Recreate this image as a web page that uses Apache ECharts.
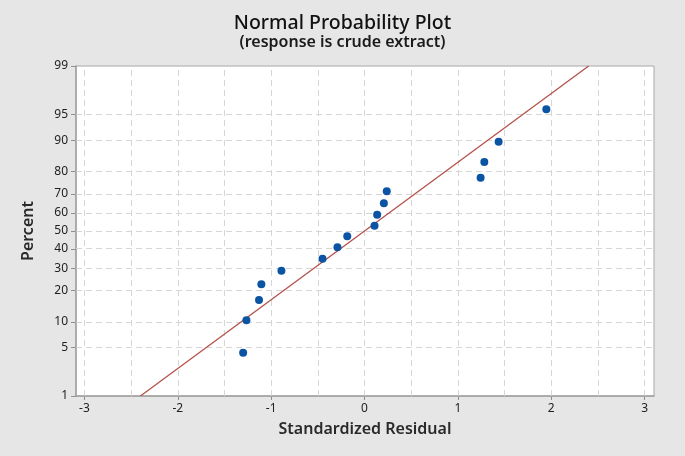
<!DOCTYPE html>
<html><head><meta charset="utf-8">
<script src="https://cdn.jsdelivr.net/npm/echarts@6/dist/echarts.min.js"></script>
<style>html,body{margin:0;padding:0;background:#e6e6e6;}#c{width:685px;height:456px;}</style>
</head><body><div id="c"></div>
<script>
// Data
const residuals = [-1.30, -1.265, -1.13, -1.105, -0.89, -0.45, -0.29, -0.185, 0.107, 0.135, 0.207, 0.238, 1.243, 1.283, 1.436, 1.947];
const percents  = [4.3, 10.4, 16.5, 22.6, 28.7, 34.8, 40.9, 47.0, 53.0, 59.1, 65.2, 71.3, 77.4, 83.5, 89.6, 95.7];
const fitX = [-2.40, 2.40];
const fitPct = [1, 99];
const yTicks = [1, 5, 10, 20, 30, 40, 50, 60, 70, 80, 90, 95, 99];
const xTicks = [-3, -2, -1, 0, 1, 2, 3];
const xGrid = [-3, -2.5, -2, -1.5, -1, -0.5, 0, 0.5, 1, 1.5, 2, 2.5, 3];

// inverse normal CDF (Acklam) for probability-scale axis
function probit(p) {
  const a=[-3.969683028665376e+01,2.209460984245205e+02,-2.759285104469687e+02,1.383577518672690e+02,-3.066479806614716e+01,2.506628277459239e+00];
  const b=[-5.447609879822406e+01,1.615858368580409e+02,-1.556989798598866e+02,6.680131188771972e+01,-1.328068155288572e+01];
  const c=[-7.784894002430293e-03,-3.223964580411365e-01,-2.400758277161838e+00,-2.549732539343734e+00,4.374664141464968e+00,2.938163982698783e+00];
  const d=[7.784695709041462e-03,3.224671290700398e-01,2.445134137142996e+00,3.754408661907416e+00];
  const pl=0.02425, ph=1-pl; let q,r;
  if (p<pl){q=Math.sqrt(-2*Math.log(p));return (((((c[0]*q+c[1])*q+c[2])*q+c[3])*q+c[4])*q+c[5])/((((d[0]*q+d[1])*q+d[2])*q+d[3])*q+1);}
  if (p<=ph){q=p-0.5;r=q*q;return (((((a[0]*r+a[1])*r+a[2])*r+a[3])*r+a[4])*r+a[5])*q/(((((b[0]*r+b[1])*r+b[2])*r+b[3])*r+b[4])*r+1);}
  q=Math.sqrt(-2*Math.log(1-p));return -(((((c[0]*q+c[1])*q+c[2])*q+c[3])*q+c[4])*q+c[5])/((((d[0]*q+d[1])*q+d[2])*q+d[3])*q+1);
}
const z = pc => probit(pc/100);
const yTickZ = yTicks.map(z);
function pctLabel(v){let best=0,bd=1e9;yTickZ.forEach((t,i)=>{const dd=Math.abs(t-v);if(dd<bd){bd=dd;best=i;}});return String(yTicks[best]);}

const FONT = '"Noto Sans", "Open Sans", sans-serif';
const gridStyle = {color:'#d6d6d6', type:[6,4], width:1};

const chart = echarts.init(document.getElementById('c'));
chart.setOption({
  backgroundColor:'#e6e6e6',
  animation:false,
  title:{
    text:'Normal Probability Plot',
    subtext:'(response is crude extract)',
    left:'center', top:8, itemGap:1,
    textStyle:{fontFamily:FONT, fontSize:19.5, fontWeight:500, color:'#111'},
    subtextStyle:{fontFamily:FONT, fontSize:16, fontWeight:600, color:'#1a1a1a'}
  },
  grid:{left:76, right:31, top:66, bottom:60, show:true, backgroundColor:'#ffffff', borderColor:'#a8a8a8', borderWidth:1},
  xAxis:{
    type:'value', min:-3.09, max:3.1,
    name:'Standardized Residual', nameLocation:'middle', nameGap:25,
    nameTextStyle:{fontFamily:FONT, fontSize:16, fontWeight:600, color:'#2a2a2a'},
    axisLine:{show:true, onZero:false, lineStyle:{color:'#a0a0a0', width:1.5}},
    axisTick:{show:true, length:4, lineStyle:{color:'#909090'}, customValues:xTicks},
    axisLabel:{fontFamily:FONT, fontSize:12, color:'#222', margin:7, customValues:xTicks, formatter:v=>String(Math.round(v))},
    splitLine:{show:false}
  },
  yAxis:{
    type:'value', min:z(1), max:z(99),
    name:'Percent', nameLocation:'middle', nameGap:40,
    nameTextStyle:{fontFamily:FONT, fontSize:16, fontWeight:600, color:'#2a2a2a'},
    axisLine:{show:true, onZero:false, lineStyle:{color:'#a0a0a0', width:1.5}},
    axisTick:{show:true, length:5, lineStyle:{color:'#909090'}, customValues:yTickZ},
    axisLabel:{fontFamily:FONT, fontSize:12, color:'#222', margin:8, customValues:yTickZ, formatter:pctLabel},
    splitLine:{show:false}
  },
  series:[
    {
      type:'line', silent:true, symbol:'none', data:[], z:1,
      markLine:{
        silent:true, symbol:'none', label:{show:false}, animation:false, z:1,
        lineStyle:gridStyle,
        data: xGrid.map(v=>({xAxis:v})).concat(yTickZ.slice(1,-1).map(v=>({yAxis:v})))
      }
    },
    {
      type:'line', symbol:'none', silent:true,
      lineStyle:{color:'#b5504a', width:1.3},
      data: fitX.map((x,i)=>[x, z(fitPct[i])]), z:5
    },
    {
      type:'scatter', symbol:'circle', symbolSize:8,
      itemStyle:{color:'#0b54a4', opacity:1},
      data: residuals.map((x,i)=>[x, z(percents[i])]), z:10
    }
  ]
});
</script></body></html>
